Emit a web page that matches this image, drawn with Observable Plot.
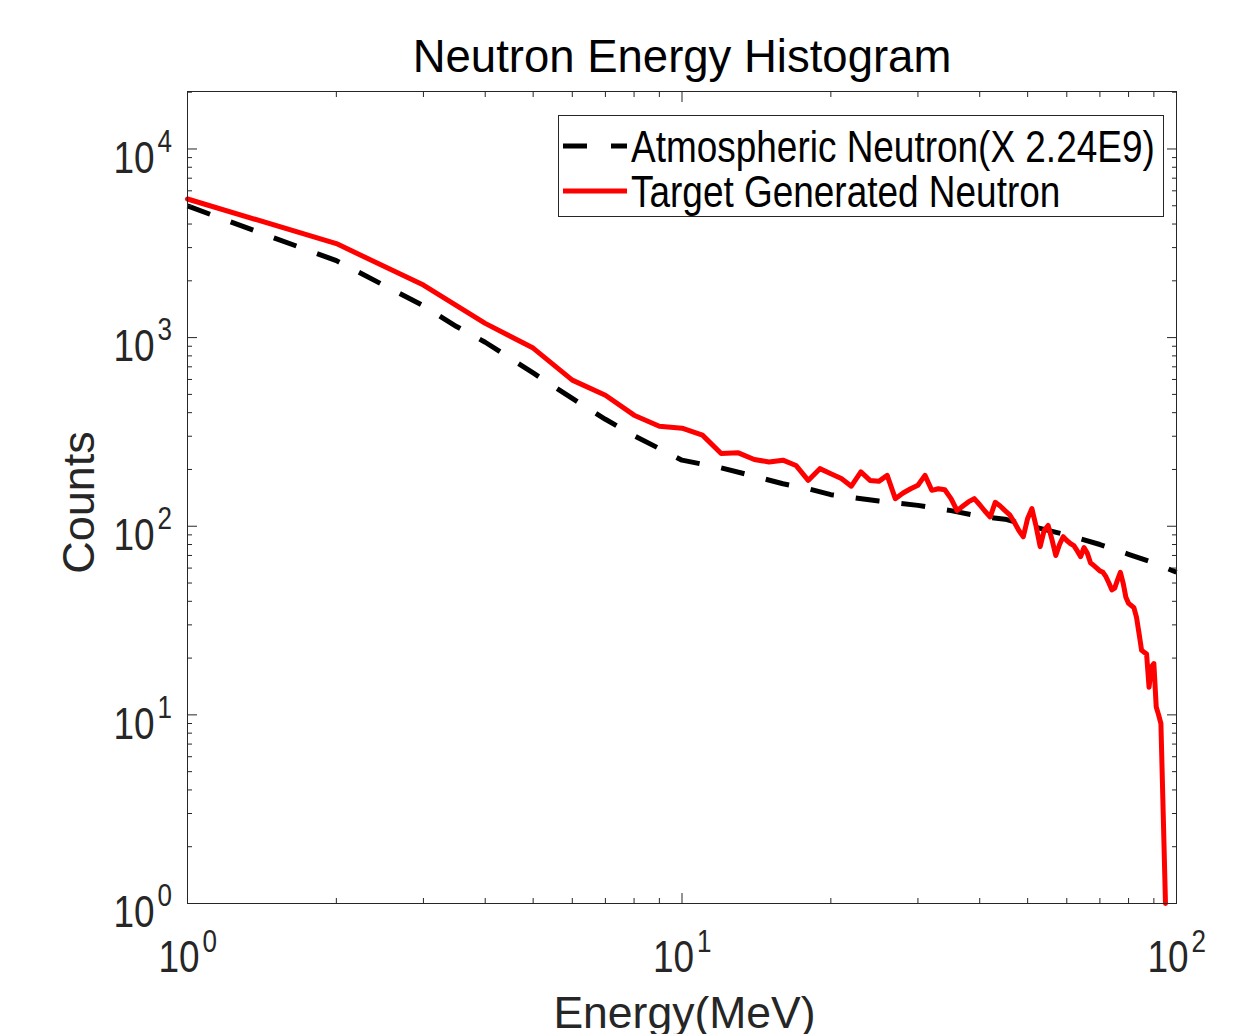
<!DOCTYPE html>
<html>
<head>
<meta charset="utf-8">
<script src="https://cdn.jsdelivr.net/npm/d3@7"></script>
<script src="https://cdn.jsdelivr.net/npm/@observablehq/plot@0.6"></script>
<style>
  html, body { margin: 0; padding: 0; background: #fff; }
  svg { display: block; }
</style>
</head>
<body>
<div id="chart"></div>
<script>
// ---- Data ----
// Atmospheric neutron spectrum (scaled X 2.24E9): energy (MeV) and counts
const atmosEnergy = [1, 1.5, 2, 2.5, 3, 3.5, 4, 5, 6, 7, 8, 9, 10, 12, 14, 16, 18, 20, 25, 30, 35, 40, 45, 50, 60, 70, 80, 90, 100];
const atmosCounts = [4990, 3370, 2560, 1890, 1475, 1145, 945, 650, 476, 369, 302, 258, 224, 204, 184, 168, 158, 147, 136, 129, 121, 113, 109, 101, 90, 80, 71, 64, 57];

// Target generated neutron histogram: energy (MeV) and counts
const targetEnergy = [1, 2, 3, 4, 5, 6, 7, 8, 9, 10,
  11, 12, 13, 14, 15, 16, 17, 18, 19, 20,
  21, 22, 23, 24, 25, 26, 27, 28, 29, 30,
  31, 32, 33, 34, 35, 36, 37, 38, 39, 40,
  41, 42, 43, 44, 45, 46, 47, 48, 49, 50,
  51, 52, 53, 54, 55, 56, 57, 58, 59, 60,
  61, 62, 63, 64, 65, 66, 67, 68, 69, 70,
  71, 72, 73, 74, 75, 76, 77, 78, 79, 80,
  81, 82, 83, 84, 85, 86, 87, 88, 89, 90,
  91, 92, 93, 94, 95];
const targetCounts = [5430, 3150, 1900, 1190, 880, 595, 495, 388, 339, 331,
  304, 243, 245, 226, 219, 224, 210, 175, 202, 190,
  179, 163, 194, 175, 173, 186, 140, 150, 158, 165,
  186, 155, 158, 156, 140, 121, 128, 135, 140, 130,
  120, 112, 134, 128, 121, 115, 105, 95, 88, 110,
  124, 100, 78, 95, 101, 85, 70, 80, 88, 84,
  81, 79, 74, 69, 77, 72, 64, 62, 60, 58,
  57, 54, 50, 46, 47, 52, 57, 50, 42, 39,
  38, 37, 33, 27, 22, 21.5, 21, 14, 18, 18.7,
  11, 10, 9, 3, 1];

// Tick values
const xMajor = [1, 10, 100];
const xExponents = ["0", "1", "2"];
const yMajor = [1, 10, 100, 1000, 10000];
const yExponents = ["0", "1", "2", "3", "4"];
const minorMultipliers = [2, 3, 4, 5, 6, 7, 8, 9];

const titleText = "Neutron Energy Histogram";
const xLabel = "Energy(MeV)";
const yLabel = "Counts";
const legendLabels = ["Atmospheric Neutron(X 2.24E9)", "Target Generated Neutron"];

// ---- Build tables ----
const atmos = atmosEnergy.map((e, i) => ({e, c: atmosCounts[i]}));
const target = targetEnergy.map((e, i) => ({e, c: targetCounts[i]}));
const xMinor = xMajor.slice(0, -1).flatMap(d => minorMultipliers.map(m => d * m));
const yMinor = yMajor.flatMap(d => minorMultipliers.map(m => d * m)).filter(v => v < 20170);
const xTicks = xMajor.map((v, i) => ({v, exp: xExponents[i]}));
const yTicks = yMajor.map((v, i) => ({v, exp: yExponents[i]}));

const ink = "#262626";
const font = "'Liberation Sans', Arial, sans-serif";
const tickOpts = {stroke: ink, strokeWidth: 1, fill: "none", label: null, tickFormat: () => ""};

const plot = Plot.plot({
  width: 1250,
  height: 1034,
  marginLeft: 187,
  marginRight: 74,
  marginTop: 91,
  marginBottom: 131,
  style: {fontFamily: font, background: "#fff", color: ink},
  x: {type: "log", domain: [1, 100]},
  y: {type: "log", domain: [1, 20170]},
  marks: [
    Plot.line(atmos, {x: "e", y: "c", stroke: "#000", strokeWidth: 5, strokeDasharray: "24,22", strokeLinecap: "butt"}),
    Plot.line(target, {x: "e", y: "c", stroke: "#ff0000", strokeWidth: 5, strokeLinejoin: "round"}),
    Plot.frame({stroke: ink, strokeWidth: 1}),
    Plot.axisX(xMajor, {...tickOpts, anchor: "bottom", tickSize: -10}),
    Plot.axisX(xMajor, {...tickOpts, anchor: "top", tickSize: -10}),
    Plot.axisX(xMinor, {...tickOpts, anchor: "bottom", tickSize: -5}),
    Plot.axisX(xMinor, {...tickOpts, anchor: "top", tickSize: -5}),
    Plot.axisY(yMajor, {...tickOpts, anchor: "left", tickSize: -10}),
    Plot.axisY(yMajor, {...tickOpts, anchor: "right", tickSize: -10}),
    Plot.axisY(yMinor, {...tickOpts, anchor: "left", tickSize: -5}),
    Plot.axisY(yMinor, {...tickOpts, anchor: "right", tickSize: -5}),
    // y tick labels: 10 with superscript exponent
    Plot.text(yTicks, {x: () => 1, y: "v", text: () => "10", textAnchor: "end", lineAnchor: "bottom",
      dx: -33, dy: 23.7, fontSize: 44, fill: ink, ariaDescription: "condensed"}),
    Plot.text(yTicks, {x: () => 1, y: "v", text: "exp", textAnchor: "start", lineAnchor: "bottom",
      dx: -30, dy: 2.7, fontSize: 31, fill: ink, ariaDescription: "condensed"}),
    // x tick labels
    Plot.text(xTicks, {x: "v", y: () => 1, text: () => "10", textAnchor: "end", lineAnchor: "bottom",
      dx: 12, dy: 68.7, fontSize: 44, fill: ink, ariaDescription: "condensed"}),
    Plot.text(xTicks, {x: "v", y: () => 1, text: "exp", textAnchor: "start", lineAnchor: "bottom",
      dx: 15, dy: 48, fontSize: 31, fill: ink, ariaDescription: "condensed"}),
    // title and axis labels
    Plot.text([titleText], {frameAnchor: "top", textAnchor: "middle", lineAnchor: "bottom", dy: -19.5, fontSize: 45.5, fill: "#000"}),
    Plot.text([xLabel], {frameAnchor: "bottom", textAnchor: "middle", lineAnchor: "bottom", dx: 2.5, dy: 124, fontSize: 44.5, fill: ink}),
    Plot.text([yLabel], {frameAnchor: "left", textAnchor: "middle", lineAnchor: "bottom", rotate: -90, dx: -94, dy: 5, fontSize: 45, fill: ink})
  ]
});

document.getElementById("chart").appendChild(plot);

// Condense tick-label text horizontally like the reference
d3.select(plot).selectAll("g[aria-description='condensed'] text").each(function() {
  const t = this.getAttribute("transform") || "";
  this.setAttribute("transform", t + " scale(0.84,1)");
});

// Legend box
const svg = d3.select(plot);
const lg = svg.append("g").attr("class", "legend");
lg.append("rect").attr("x", 558.5).attr("y", 115.5).attr("width", 605).attr("height", 101)
  .attr("fill", "#fff").attr("stroke", ink).attr("stroke-width", 1);
lg.append("line").attr("x1", 563).attr("x2", 627).attr("y1", 146).attr("y2", 146)
  .attr("stroke", "#000").attr("stroke-width", 5).attr("stroke-dasharray", "24,24");
lg.append("line").attr("x1", 563).attr("x2", 627).attr("y1", 191).attr("y2", 191)
  .attr("stroke", "#ff0000").attr("stroke-width", 5);
[[legendLabels[0], 161.5], [legendLabels[1], 206.5]].forEach(([txt, yb]) => {
  lg.append("text").attr("transform", `translate(631,${yb}) scale(0.84,1)`)
    .attr("text-anchor", "start")
    .attr("font-family", font).attr("font-size", 44)
    .attr("fill", "#000").text(txt);
});
</script>
</body>
</html>
